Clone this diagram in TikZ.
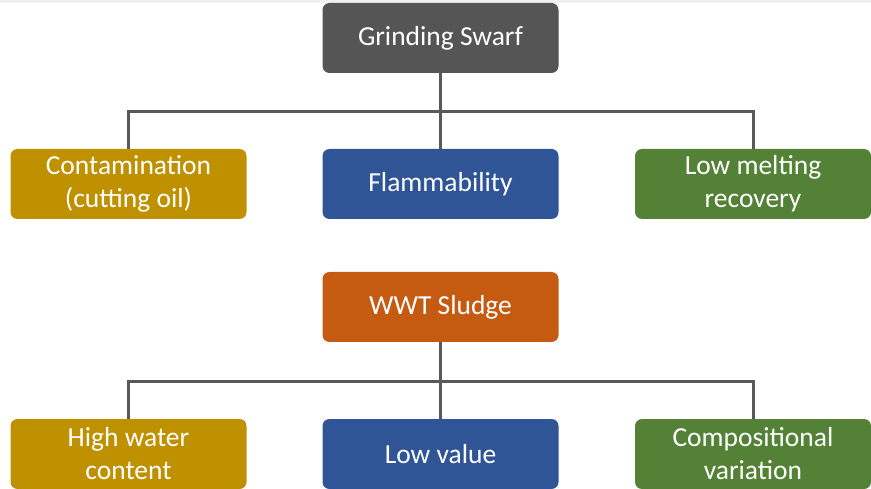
\documentclass[tikz,border=0pt]{standalone}
\usepackage{fontspec}
\setmainfont{Carlito}
\usetikzlibrary{positioning}
\definecolor{swarfgray}{HTML}{555555}
\definecolor{goldbox}{HTML}{BF9000}
\definecolor{bluebox}{HTML}{2F5597}
\definecolor{greenbox}{HTML}{538135}
\definecolor{rustbox}{HTML}{C55A11}
\definecolor{linkgray}{HTML}{595959}
\definecolor{topband}{HTML}{EEF1F3}

\begin{document}
\begin{tikzpicture}[x=1pt,y=-1pt,box/.style={rounded corners=7pt,align=center,text=white,font=\fontsize{27.5}{33}\selectfont,minimum width=236pt,minimum height=70pt,inner sep=0pt},graybox/.style={box,fill=swarfgray},goldnode/.style={box,fill=goldbox},bluenode/.style={box,fill=bluebox},greennode/.style={box,fill=greenbox},rustnode/.style={box,fill=rustbox},link/.style={draw=linkgray,line width=3pt}]
\useasboundingbox (0,0) rectangle (871,489);
\fill[topband] (0,0) rectangle (871,3);
% first tree
\node[graybox] (swarf) at (440.5,38) {Grinding Swarf};
\node[goldnode] (contam) at (128.5,184) {Contamination\\(cutting oil)};
\node[bluenode] (flam) at (440.5,184) {Flammability};
\node[greennode] (recov) at (753,184) {Low melting\\recovery};
\coordinate (busA) at (440.5,112);
\draw[link] (swarf.south) -- (busA) -| (contam.north);\draw[link] (busA) -| (recov.north);\draw[link] (busA) -- (flam.north);
% second tree
\node[rustnode] (sludge) at (440.5,307) {WWT Sludge};
\node[goldnode] (water) at (128.5,454) {High water\\content};
\node[bluenode] (value) at (440.5,454) {Low value};
\node[greennode] (comp) at (753,454) {Compositional\\variation};
\coordinate (busB) at (440.5,381);
\draw[link] (sludge.south) -- (busB) -| (water.north);\draw[link] (busB) -| (comp.north);\draw[link] (busB) -- (value.north);
\end{tikzpicture}
\end{document}
